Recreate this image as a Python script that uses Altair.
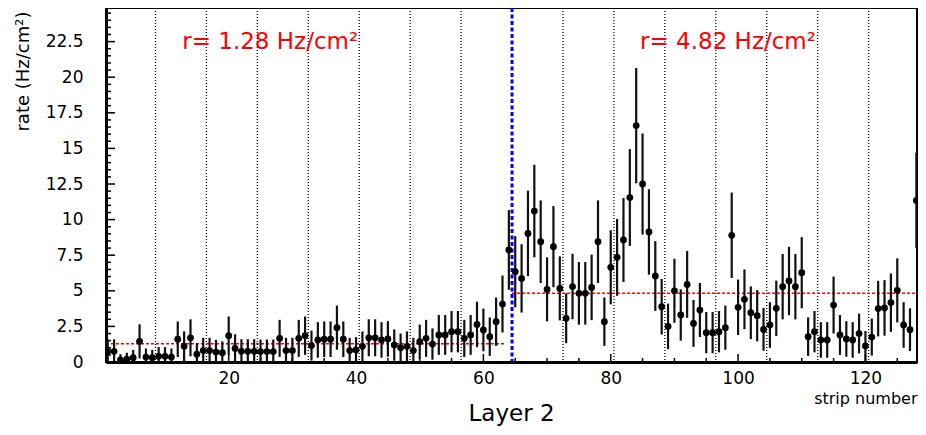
import altair as alt
import pandas as pd

# ---- data ----
strips = list(range(1, 129))
rate = [
    0.75, 0.75, 0.15, 0.20, 0.30, 1.45, 0.35, 0.30, 0.40, 0.40,
    0.35, 1.60, 1.10, 1.70, 0.55, 0.80, 0.80, 0.70, 0.65, 1.85,
    0.95, 0.75, 0.75, 0.75, 0.73, 0.73, 0.73, 1.66, 0.80, 0.80,
    1.66, 1.85, 1.15, 1.55, 1.60, 1.60, 2.41, 1.60, 0.80, 0.85,
    1.10, 1.70, 1.70, 1.55, 1.62, 1.19, 1.00, 1.10, 0.80, 1.43,
    1.66, 1.26, 1.90, 1.90, 2.13, 2.13, 1.66, 1.90, 2.64, 2.25,
    1.78, 2.83, 4.07, 7.87, 6.34, 5.87, 9.03, 10.60, 8.45, 5.10,
    8.10, 5.17, 3.07, 5.30, 4.82, 4.82, 5.24, 8.45, 2.83, 6.65,
    7.35, 8.57, 11.55, 16.60, 12.50, 9.13, 6.04, 3.88, 2.50, 5.00,
    3.30, 5.45, 2.71, 3.65, 2.06, 2.06, 2.13, 2.41, 8.90, 3.84,
    4.40, 3.46, 3.25, 2.29, 2.60, 3.77, 5.29, 5.69, 5.29, 6.27,
    1.78, 2.13, 1.55, 1.55, 4.00, 1.90, 1.62, 1.55, 2.00, 1.13,
    1.75, 3.75, 3.80, 4.17, 5.03, 2.60, 2.27, 11.35,
]
err = [
    0.85, 0.85, 0.40, 0.45, 0.55, 1.20, 0.60, 0.55, 0.65, 0.65,
    0.60, 1.25, 1.05, 1.30, 0.75, 0.90, 0.90, 0.85, 0.80, 1.35,
    1.00, 0.85, 0.85, 0.85, 0.85, 0.85, 0.85, 1.30, 0.90, 0.90,
    1.30, 1.35, 1.05, 1.25, 1.25, 1.25, 1.55, 1.25, 0.90, 0.90,
    1.05, 1.30, 1.30, 1.25, 1.25, 1.10, 1.00, 1.05, 0.90, 1.20,
    1.30, 1.10, 1.40, 1.40, 1.45, 1.45, 1.30, 1.40, 1.60, 1.50,
    1.35, 1.70, 2.00, 2.80, 2.50, 2.40, 3.00, 3.25, 2.90, 2.25,
    2.85, 2.25, 1.75, 2.30, 2.20, 2.20, 2.30, 2.90, 1.70, 2.60,
    2.70, 2.95, 3.40, 4.05, 3.55, 3.00, 2.45, 1.95, 1.60, 2.25,
    1.80, 2.35, 1.65, 1.90, 1.45, 1.45, 1.45, 1.55, 3.00, 1.95,
    2.10, 1.85, 1.80, 1.50, 1.60, 1.95, 2.30, 2.40, 2.30, 2.50,
    1.35, 1.45, 1.25, 1.25, 2.00, 1.40, 1.25, 1.25, 1.40, 1.05,
    1.30, 1.95, 1.95, 2.05, 2.25, 1.60, 1.50, 3.35,
]
grid_x = [8.5, 16.5, 24.5, 32.5, 40.5, 48.5, 56.5, 72.5, 80.5, 88.5,
          96.5, 104.5, 112.5, 120.5]
boundary_x = [64.5]
mean_start = [0.73, 64.5]
mean_end = [63.5, 128.1]
mean_rate = [1.28, 4.82]
note_text = ["r= 1.28 Hz/cm\u00b2", "r= 4.82 Hz/cm\u00b2"]
note_x = [12.7, 84.6]
note_y = [21.96, 21.96]
x_labels = [20, 40, 60, 80, 100, 120]
x_minor = [5, 10, 15, 25, 30, 35, 45, 50, 55, 65, 70, 75, 85, 90, 95,
           105, 110, 115, 125]
y_labels = [0, 2.5, 5, 7.5, 10, 12.5, 15, 17.5, 20, 22.5]
y_minor = [v / 2 for v in range(1, 50) if v % 5 != 0]

W, H = 811, 354
FONT = "DejaVu Sans"

xs = alt.Scale(domain=[0.73, 128.1], nice=False, zero=False)
ys = alt.Scale(domain=[0, 24.86], nice=False, zero=False)

x_axis = alt.Axis(
    values=x_labels, format="d", grid=False, ticks=False, tickSize=0,
    labelPadding=8, labelFont=FONT, labelFontSize=17, labelColor="#000000",
    domainColor="#000000", domainWidth=3,
    title="strip number", titleFont=FONT, titleFontSize=16,
    titleFontWeight="normal", titleColor="#000000",
    titleX=W, titleY=36, titleAlign="right", titleBaseline="middle",
    titleAngle=0,
)
y_axis = alt.Axis(
    values=y_labels, labelExpr="'' + datum.value", grid=False, ticks=False,
    tickSize=0, labelPadding=23, labelFont=FONT, labelFontSize=17,
    labelColor="#000000", domainColor="#000000", domainWidth=3,
    title="rate (Hz/cm\u00b2)", titleFont=FONT, titleFontSize=18,
    titleFontWeight="normal", titleColor="#000000",
    titleX=-83, titleY=3, titleAngle=270, titleAlign="right",
    titleBaseline="middle",
)


def X(field):
    return alt.X(field, scale=xs, axis=x_axis, title="strip number")


def Y(field):
    return alt.Y(field, scale=ys, axis=y_axis, title="rate (Hz/cm\u00b2)")


df = pd.DataFrame({"strip": strips, "rate": rate, "err": err})

base = alt.Chart(df).mark_point(opacity=0, size=1).encode(
    x=X("strip:Q"), y=Y("rate:Q")
)

grid = alt.Chart(pd.DataFrame({"g": grid_x})).mark_rule(
    color="#000000", strokeWidth=1.3, strokeDash=[1, 2]
).encode(x=X("g:Q"))

means = alt.Chart(pd.DataFrame({"a": mean_start, "b": mean_end, "r": mean_rate})).mark_rule(
    color="#ff0000", strokeWidth=1.5, strokeDash=[3, 2]
).encode(x=X("a:Q"), x2="b:Q", y=Y("r:Q"))

blue = alt.Chart(pd.DataFrame({"b": boundary_x})).mark_rule(
    color="#0000ff", strokeWidth=3, strokeDash=[4, 2.5]
).encode(x=X("b:Q"))

bars = alt.Chart(df).transform_calculate(
    lo="datum.rate - datum.err", hi="datum.rate + datum.err"
).mark_rule(color="#111111", strokeWidth=2.2, clip=True).encode(
    x=X("strip:Q"), y=Y("lo:Q"), y2="hi:Q"
)

points = alt.Chart(df).mark_point(
    filled=True, shape="circle", size=46, color="#000000", opacity=1, clip=True
).encode(x=X("strip:Q"), y=Y("rate:Q"))

notes = alt.Chart(pd.DataFrame({"t": note_text, "x": note_x, "y": note_y})).mark_text(
    font=FONT, fontSize=23, color="#ff0000", align="left", baseline="alphabetic"
).encode(x=X("x:Q"), y=Y("y:Q"), text="t:N")

ymaj = alt.Chart(pd.DataFrame({"v": y_labels})).mark_rule(color="#000000", strokeWidth=1.5).encode(
    y=Y("v:Q"), x=alt.value(0), x2=alt.value(9)
)
ymin = alt.Chart(pd.DataFrame({"v": y_minor})).mark_rule(color="#000000", strokeWidth=1.5).encode(
    y=Y("v:Q"), x=alt.value(0), x2=alt.value(5)
)
xmaj = alt.Chart(pd.DataFrame({"v": x_labels})).mark_rule(color="#000000", strokeWidth=1.5).encode(
    x=X("v:Q"), y=alt.value(H), y2=alt.value(H - 8)
)
xmin = alt.Chart(pd.DataFrame({"v": x_minor})).mark_rule(color="#000000", strokeWidth=1.5).encode(
    x=X("v:Q"), y=alt.value(H), y2=alt.value(H - 4)
)

chart = alt.layer(
    base, grid, means, blue, bars, points, notes, ymaj, ymin, xmaj, xmin
).properties(
    width=W,
    height=H,
    title=alt.TitleParams(
        "Layer 2", orient="bottom", anchor="middle", frame="group",
        baseline="alphabetic", font=FONT, fontSize=23, fontWeight="normal",
        color="#000000", offset=15,
    ),
    autosize=alt.AutoSizeParams(type="none"),
    padding={"left": 98, "top": 0, "right": 1, "bottom": 65},
    background="#ffffff",
).configure_view(
    stroke="#000000", strokeWidth=2
)

chart.save("out.html", embed_options={"renderer": "svg", "actions": False})
